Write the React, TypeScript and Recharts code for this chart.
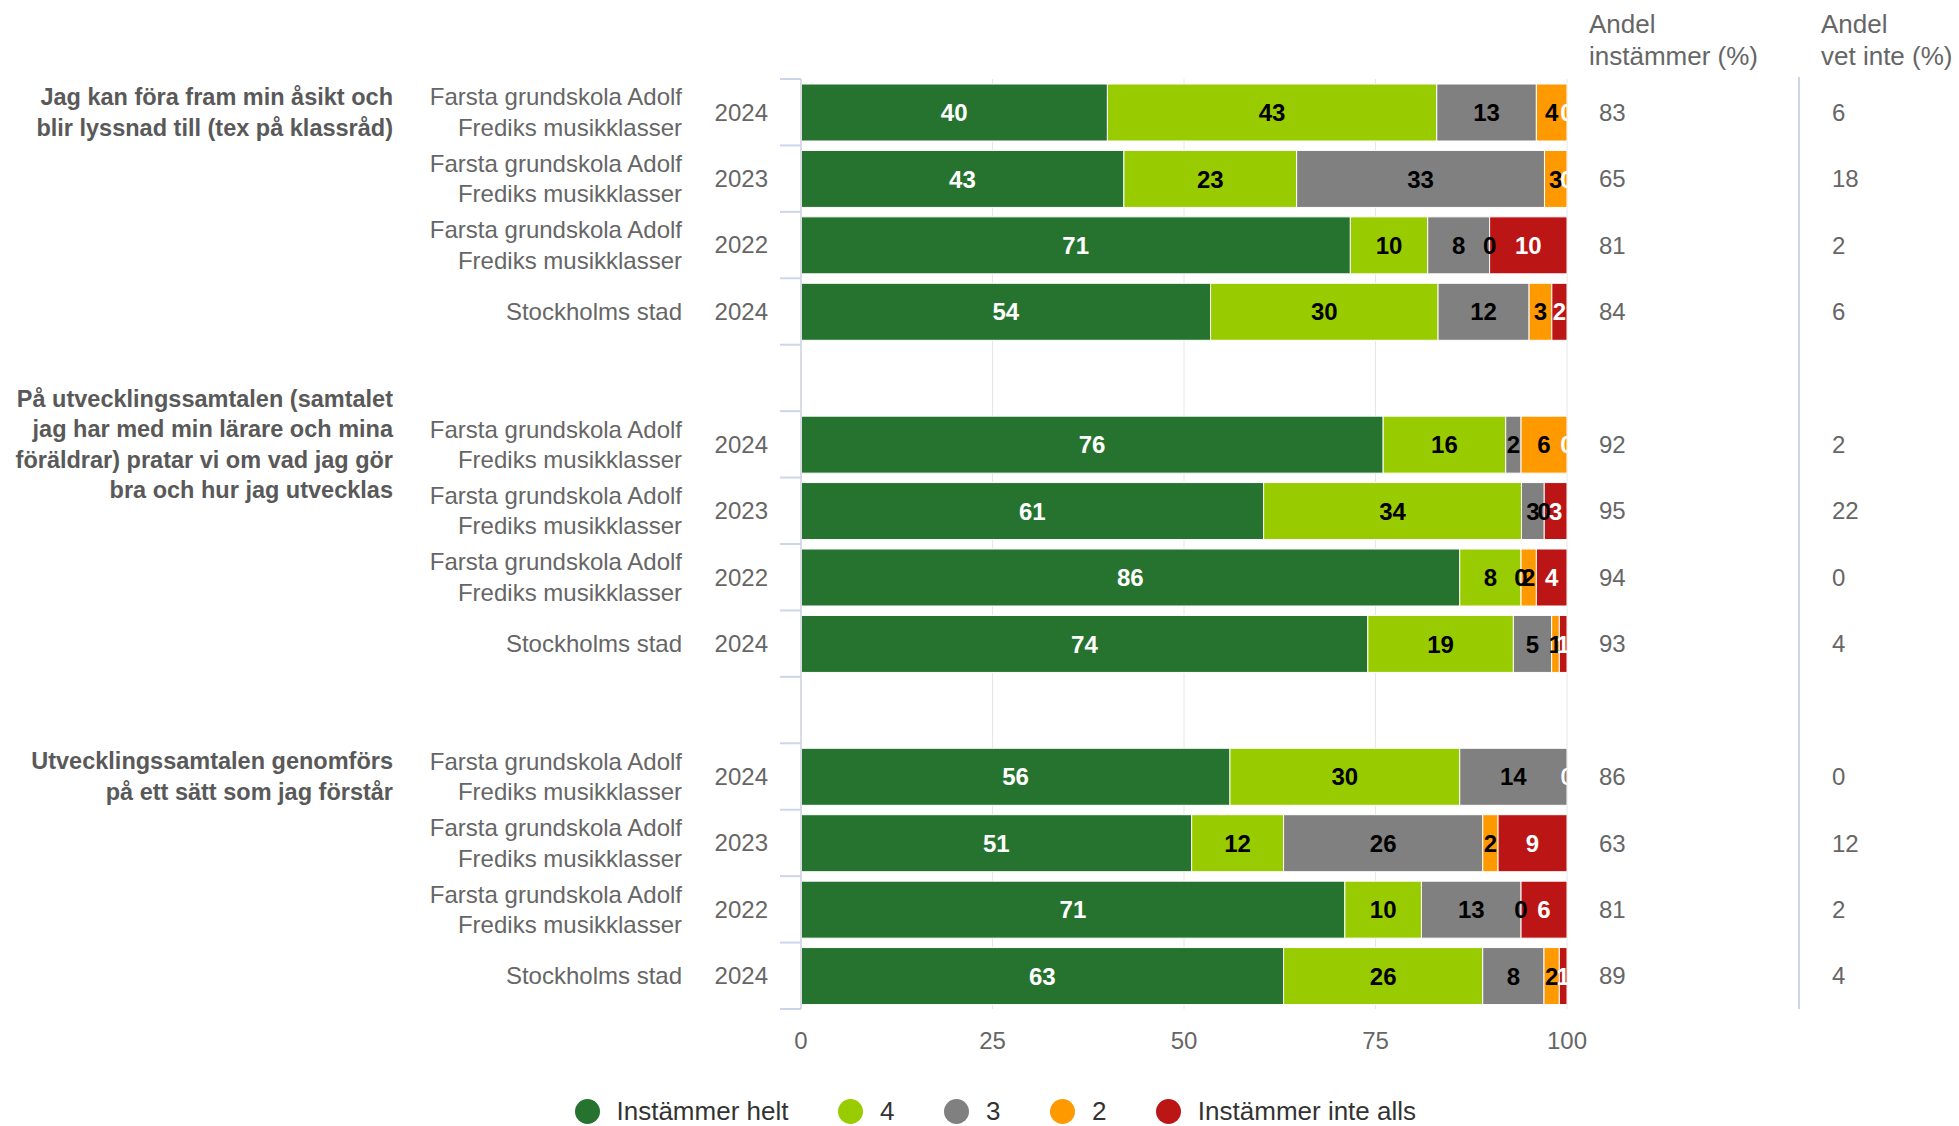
import React from "react";
import { BarChart, Bar, XAxis, YAxis, CartesianGrid, LabelList, Legend } from "recharts";

// ---------- data ----------
const questions: string[][] = [
  ["Jag kan föra fram min åsikt och", "blir lyssnad till (tex på klassråd)"],
  [
    "På utvecklingssamtalen (samtalet",
    "jag har med min lärare och mina",
    "föräldrar) pratar vi om vad jag gör",
    "bra och hur jag utvecklas",
  ],
  ["Utvecklingssamtalen genomförs", "på ett sätt som jag förstår"],
];
const units: string[][] = [
  ["Farsta grundskola Adolf", "Frediks musikklasser"],
  ["Farsta grundskola Adolf", "Frediks musikklasser"],
  ["Farsta grundskola Adolf", "Frediks musikklasser"],
  ["Stockholms stad"],
];
const years = ["2024", "2023", "2022", "2024"];

const instammerHelt = [40, 43, 71, 54, 76, 61, 86, 74, 56, 51, 71, 63];
const fyra = [43, 23, 10, 30, 16, 34, 8, 19, 30, 12, 10, 26];
const tre = [13, 33, 8, 12, 2, 3, 0, 5, 14, 26, 13, 8];
const tva = [4, 3, 0, 3, 6, 0, 2, 1, 0, 2, 0, 2];
const instammerInteAlls = [0, 0, 10, 2, 0, 3, 4, 1, 0, 9, 6, 1];

const andelInstammer = [83, 65, 81, 84, 92, 95, 94, 93, 86, 63, 81, 89];
const andelVetInte = [6, 18, 2, 6, 2, 22, 0, 4, 0, 12, 2, 4];

const seriesNames = ["Instämmer helt", "4", "3", "2", "Instämmer inte alls"];
const seriesColors = ["#267330", "#99cc00", "#808080", "#ff9900", "#bb1515"];
const labelColors = ["#ffffff", "#000000", "#000000", "#000000", "#ffffff"];
const xTicks = [0, 25, 50, 75, 100];
const columnHeaders = [
  ["Andel", "instämmer (%)"],
  ["Andel", "vet inte (%)"],
];

const seriesValues = [instammerHelt, fyra, tre, tva, instammerInteAlls];

// ---------- table ----------
const table: any[] = [];
questions.forEach((q, g) => {
  if (g > 0) table.push({ id: `gap${g}`, gap: true });
  units.forEach((u, k) => {
    const i = g * units.length + k;
    const raw = seriesValues.map((s) => s[i]);
    const sum = raw.reduce((a, b) => a + b, 0);
    const row: any = {
      id: `r${i}`,
      group: g,
      pos: k,
      unit: u,
      year: years[k],
      agree: andelInstammer[i],
      dontKnow: andelVetInte[i],
      total: 0,
    };
    raw.forEach((v, s) => {
      row[`v${s}`] = v;
      row[`n${s}`] = (v / sum) * 100;
      row.total += row[`n${s}`];
    });
    table.push(row);
  });
});
const tableById: Record<string, any> = {};
table.forEach((r, i) => (tableById[r.id] = { ...r, index: i }));

// ---------- layout ----------
const W = 1959;
const H = 1126;
const PLOT_TOP = 79;
const PLOT_BOTTOM = 1009;
const PLOT_LEFT = 801;
const PLOT_RIGHT = 1567;
const BAND = (PLOT_BOTTOM - PLOT_TOP) / table.length;
const FONT = "'Liberation Sans', Arial, Helvetica, sans-serif";

const CategoryTick = (props: any) => {
  const { y, payload } = props;
  const row = tableById[payload.value];
  const idx = row ? row.index : -1;
  const top = y - BAND / 2;
  const tickColor = "#ccd6eb";
  const lines = (arr: string[], xr: number, lh: number, fs: number, extra: any) =>
    arr.map((t, j) => (
      <text
        key={j}
        x={xr}
        y={y + (j - (arr.length - 1) / 2) * lh + fs * 0.35}
        textAnchor="end"
        fontFamily={FONT}
        fontSize={fs}
        {...extra}
      >
        {t}
      </text>
    ));
  return (
    <g>
      {idx === 0 && (
        <g>
          <defs>
            <clipPath id="plotClip">
              <rect x={PLOT_LEFT} y={0} width={PLOT_RIGHT - PLOT_LEFT} height={H} />
            </clipPath>
          </defs>
          <line x1={1799} x2={1799} y1={PLOT_TOP - 2} y2={PLOT_BOTTOM} stroke={tickColor} strokeWidth={2} />
          {columnHeaders.map((h, c) =>
            h.map((t, j) => (
              <text
                key={`${c}-${j}`}
                x={c === 0 ? 1589 : 1821}
                y={33 + j * 32}
                fontFamily={FONT}
                fontSize={26}
                fill="#666666"
              >
                {t}
              </text>
            ))
          )}
        </g>
      )}
      <line x1={PLOT_LEFT - 21} x2={PLOT_LEFT} y1={top} y2={top} stroke={tickColor} strokeWidth={2} />
      {idx === table.length - 1 && (
        <line x1={PLOT_LEFT - 21} x2={PLOT_LEFT} y1={top + BAND} y2={top + BAND} stroke={tickColor} strokeWidth={2} />
      )}
      {row && !row.gap && (
        <g>
          {lines([row.year], 768, 30, 24, { fill: "#666666" })}
          {lines(row.unit, 682, 30.5, 24, { fill: "#666666" })}
          {row.pos === 0 && lines(questions[row.group], 393, 30.5, 23.5, { fill: "#595959", fontWeight: "bold" })}
          <text x={1599} y={y + 8.6} fontFamily={FONT} fontSize={24} fill="#666666">
            {row.agree}
          </text>
          <text x={1832} y={y + 8.6} fontFamily={FONT} fontSize={24} fill="#666666">
            {row.dontKnow}
          </text>
        </g>
      )}
    </g>
  );
};

// Renders the data labels of one whole row, using the geometry of the overlay bar
const RowLabels = (props: any) => {
  const vb = props.viewBox || {};
  const x = props.x ?? vb.x;
  const y = props.y ?? vb.y;
  const width = props.width ?? vb.width ?? 0;
  const height = props.height ?? vb.height ?? 0;
  const row = tableById[props.value];
  if (!row || row.gap || x === undefined || y === undefined || !row.total) return null;
  const unit = width / row.total;
  let cum = 0;
  const out: any[] = [];
  seriesNames.forEach((_, s) => {
    const n = row[`n${s}`];
    const cx = x + (cum + n / 2) * unit;
    cum += n;
    out.push(
      <text
        key={s}
        x={cx}
        y={y + height / 2 + 8.6}
        textAnchor="middle"
        fontFamily={FONT}
        fontSize={24}
        fontWeight="bold"
        fill={labelColors[s]}
        clipPath="url(#plotClip)"
      >
        {row[`v${s}`]}
      </text>
    );
  });
  return <g>{out}</g>;
};

const LegendContent = () => (
  <div style={{ display: "flex", alignItems: "center", height: 30, fontFamily: FONT }}>
    {seriesNames.map((n, i) => (
      <div key={n} style={{ display: "flex", alignItems: "center", marginLeft: i === 0 ? 0 : 50 }}>
        <span
          style={{
            display: "inline-block",
            width: 25,
            height: 25,
            borderRadius: "50%",
            background: seriesColors[i],
            marginRight: 16.5,
          }}
        />
        <span style={{ fontSize: 26, color: "#333333", whiteSpace: "nowrap" }}>{n}</span>
      </div>
    ))}
  </div>
);

export default function App() {
  return (
    <div style={{ position: "absolute", left: 0, top: 0, width: W, height: H, background: "#fff" }}>
      <BarChart
        width={W}
        height={H}
        data={table}
        layout="vertical"
        margin={{ top: PLOT_TOP, right: W - PLOT_RIGHT, bottom: H - PLOT_BOTTOM - 50, left: 0 }}
        barSize={57}
      >
        <CartesianGrid horizontal={false} vertical={true} stroke="#e6e6e6" />
        <XAxis
          type="number"
          domain={[0, 100]}
          ticks={xTicks}
          allowDataOverflow
          axisLine={false}
          tickLine={false}
          tickSize={0}
          tickMargin={23}
          height={50}
          tick={{ fill: "#666666", fontSize: 24, fontFamily: FONT }}
        />
        <YAxis
          type="category"
          dataKey="id"
          width={PLOT_LEFT}
          interval={0}
          tickLine={false}
          tickSize={0}
          tickMargin={0}
          axisLine={{ stroke: "#d9dce3", strokeWidth: 2 }}
          tick={(p: any) => <CategoryTick {...p} />}
        />
        <YAxis yAxisId="overlay" type="category" dataKey="id" hide />
        {seriesNames.map((name, s) => (
          <Bar
            key={name}
            dataKey={`n${s}`}
            name={name}
            stackId="a"
            fill={seriesColors[s]}
            stroke="#ffffff"
            strokeWidth={1}
            isAnimationActive={false}
          />
        ))}
        <Bar
          yAxisId="overlay"
          dataKey="total"
          fill="transparent"
          stroke="none"
          legendType="none"
          isAnimationActive={false}
        >
          <LabelList dataKey="id" content={(p: any) => <RowLabels {...p} />} />
        </Bar>
        <Legend
          layout="horizontal"
          verticalAlign="middle"
          align="center"
          wrapperStyle={{ left: 575, top: 1096, width: 1100, height: 30 }}
          content={() => <LegendContent />}
        />
      </BarChart>
    </div>
  );
}
